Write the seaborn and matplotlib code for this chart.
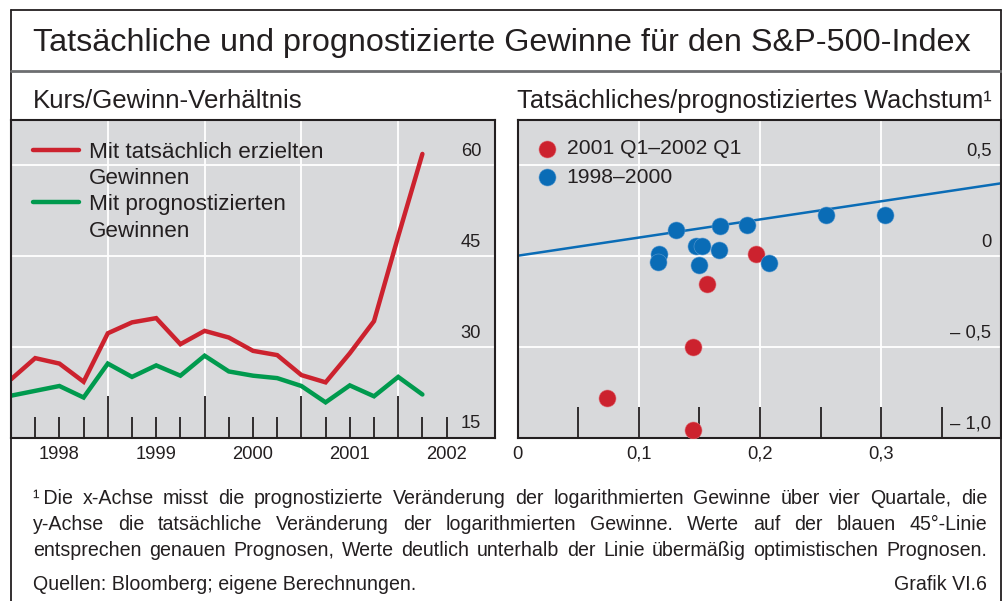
import numpy as np
import pandas as pd
import matplotlib
matplotlib.use("Agg")
import matplotlib.pyplot as plt
import seaborn as sns
from matplotlib.lines import Line2D
from matplotlib.transforms import ScaledTranslation
from matplotlib.ticker import FixedLocator, FuncFormatter, NullFormatter

# ---------------- data ----------------
quarters = ["1997Q4", "1998Q1", "1998Q2", "1998Q3", "1998Q4", "1999Q1", "1999Q2",
            "1999Q3", "1999Q4", "2000Q1", "2000Q2", "2000Q3", "2000Q4", "2001Q1",
            "2001Q2", "2001Q3", "2001Q4", "2002Q1"]
pe_actual = [24.6, 28.1, 27.2, 24.2, 32.2, 34.0, 34.7, 30.4, 32.6, 31.5, 29.3, 28.6,
             25.3, 24.1, 28.9, 34.2, 48.2, 61.8]
pe_forecast = [21.9, 22.7, 23.5, 21.6, 27.2, 25.0, 26.9, 25.2, 28.5, 25.9, 25.2, 24.8,
               23.5, 20.8, 23.6, 21.8, 25.0, 22.1]

growth_fc_recent = [0.197, 0.156, 0.145, 0.074, 0.1445]
growth_act_recent = [0.011, -0.154, -0.501, -0.783, -0.958]
growth_fc_early = [0.131, 0.117, 0.116, 0.147, 0.152, 0.1495, 0.167, 0.166, 0.189,
                   0.207, 0.254, 0.303]
growth_act_early = [0.139, 0.011, -0.037, 0.051, 0.055, -0.050, 0.165, 0.031, 0.171,
                    -0.040, 0.224, 0.224]

year_labels = ["1998", "1999", "2000", "2001", "2002"]
pe_ticks = [15, 30, 45, 60]
gr_yticks = [0.5, 0.0, -0.5, -1.0]
gr_ylabels = ["0,5", "0", "\u2013 0,5", "\u2013 1,0"]
gr_xticks = [0.0, 0.1, 0.2, 0.3]
gr_xlabels = ["0", "0,1", "0,2", "0,3"]

title = "Tatsächliche und prognostizierte Gewinne für den S&P-500-Index"
sub_left = "Kurs/Gewinn-Verhältnis"
sub_right = "Tatsächliches/prognostiziertes Wachstum\u00b9"
lab_actual = ["Mit tatsächlich erzielten", "Gewinnen"]
lab_forecast = ["Mit prognostizierten", "Gewinnen"]
lab_recent = "2001 Q1\u20132002 Q1"
lab_early = "1998\u20132000"
foot_lines = [
    "\u00b9 Die x-Achse misst die prognostizierte Veränderung der logarithmierten Gewinne über vier Quartale, die",
    "y-Achse die tatsächliche Veränderung der logarithmierten Gewinne. Werte auf der blauen 45°-Linie",
    "entsprechen genauen Prognosen, Werte deutlich unterhalb der Linie übermäßig optimistischen Prognosen.",
]
source = "Quellen: Bloomberg; eigene Berechnungen."
grafik = "Grafik VI.6"

# ---------------- style ----------------
RED = "#cc222e"
GREEN = "#009a4e"
BLUE = "#0a6cb6"
BG = "#d8d9db"
DARK = "#231f20"

sns.set_style("white")
plt.rcParams["font.family"] = ["Liberation Sans", "DejaVu Sans"]
plt.rcParams["text.color"] = DARK

W, H = 1002, 601
fig = plt.figure(figsize=(W / 100, H / 100), dpi=100)


def fx(px):
    return px / W


def fy(py):
    return 1 - py / H


ax1 = fig.add_axes([fx(11), fy(437.5), fx(495 - 11), (437.5 - 120) / H])
ax2 = fig.add_axes([fx(517.5), fy(437.5), fx(1001 - 517.5), (437.5 - 120) / H])

TICKFS = 13.2

# ---------------- left panel ----------------
xq = [int(q[:4]) + int(q[-1]) / 4 for q in quarters]
df_pe = pd.DataFrame({"t": xq, "actual": pe_actual, "forecast": pe_forecast})
sns.lineplot(data=df_pe, x="t", y="actual", ax=ax1, color=RED, lw=3.2,
             label=lab_actual[0], solid_joinstyle="miter")
sns.lineplot(data=df_pe, x="t", y="forecast", ax=ax1, color=GREEN, lw=3.2,
             label=lab_forecast[0], solid_joinstyle="miter")

ax1.set_xlim(1998, 2003)
ax1.set_ylim(15, 67.4)
ax1.set_facecolor(BG)
ax1.set_xlabel("")
ax1.set_ylabel("")

years = [int(y) for y in year_labels]
ax1.xaxis.set_major_locator(FixedLocator([y for y in years[1:]]))
ax1.xaxis.set_major_formatter(NullFormatter())
minor_q = [y + f for y in years for f in (0.25, 0.5, 0.75)]
minor_q = [m for m in minor_q if m <= years[-1] + 0.5]
ax1.xaxis.set_minor_locator(FixedLocator(minor_q))
ax1.xaxis.set_minor_formatter(FuncFormatter(
    lambda v, p: str(int(v)) if abs(v % 1 - 0.5) < 1e-6 else ""))
ax1.tick_params(axis="x", which="major", direction="in", length=30, width=1.3,
                color=DARK, bottom=True, top=False)
ax1.tick_params(axis="x", which="minor", direction="in", length=15, width=1.3,
                color=DARK, bottom=True, top=False, labelsize=TICKFS, pad=6,
                labelcolor=DARK)
ax1.grid(axis="x", which="major", color="white", lw=1.3)

ax1.yaxis.set_major_locator(FixedLocator(pe_ticks))
ax1.yaxis.set_major_formatter(FuncFormatter(lambda v, p: f"{int(v)}"))
ax1.tick_params(axis="y", which="major", length=0, left=False, right=False,
                labelleft=False, labelright=True, pad=-10, labelsize=TICKFS,
                labelcolor=DARK)
ax1.grid(axis="y", which="major", color="white", lw=1.3)
off = ScaledTranslation(0, 15.5 / 100, fig.dpi_scale_trans)
for lab in ax1.get_yticklabels():
    lab.set_horizontalalignment("right")
    lab.set_transform(lab.get_transform() + off)

for s in ax1.spines.values():
    s.set_color(DARK)
    s.set_linewidth(1.5)

h1, _ = ax1.get_legend_handles_labels()
blank = Line2D([], [], color="none")
leg1 = ax1.legend([h1[0], blank, h1[1], blank],
                  [lab_actual[0], lab_actual[1], lab_forecast[0], lab_forecast[1]],
                  loc="upper left", bbox_to_anchor=(fx(33), fy(141.5)),
                  bbox_transform=fig.transFigure, frameon=False, fontsize=16.2,
                  handlelength=2.05, handletextpad=0.45, borderpad=0,
                  borderaxespad=0, labelspacing=0.24)
for t in leg1.get_texts():
    t.set_color(DARK)

# ---------------- right panel ----------------
df_r = pd.DataFrame({"fc": growth_fc_recent, "act": growth_act_recent})
df_e = pd.DataFrame({"fc": growth_fc_early, "act": growth_act_early})
ax2.axline((0, 0), slope=1, color=BLUE, lw=1.8, zorder=2)
sns.scatterplot(data=df_r, x="fc", y="act", ax=ax2, color=RED, s=150,
                edgecolor="#e07078", linewidth=0.4, label=lab_recent, zorder=3)
sns.scatterplot(data=df_e, x="fc", y="act", ax=ax2, color=BLUE, s=150,
                edgecolor="#5a9ad0", linewidth=0.4, label=lab_early, zorder=3)

ax2.set_xlim(0, 0.3986)
ax2.set_ylim(-1.0, 0.747)
ax2.set_facecolor(BG)
ax2.set_xlabel("")
ax2.set_ylabel("")

ax2.set_xticks(gr_xticks, gr_xlabels)
ax2.xaxis.set_minor_locator(FixedLocator([t + 0.05 for t in gr_xticks]))
ax2.tick_params(axis="x", which="both", direction="in", length=22, width=1.3,
                color=DARK, bottom=True, top=False)
ax2.tick_params(axis="x", which="major", labelsize=TICKFS, pad=6, labelcolor=DARK)
ax2.grid(axis="x", which="major", color="white", lw=1.3)

ax2.set_yticks(gr_yticks, gr_ylabels)
ax2.tick_params(axis="y", which="major", length=0, left=False, right=False,
                labelleft=False, labelright=True, pad=-7, labelsize=TICKFS,
                labelcolor=DARK)
ax2.grid(axis="y", which="major", color="white", lw=1.3)
for lab in ax2.get_yticklabels():
    lab.set_horizontalalignment("right")
    lab.set_transform(lab.get_transform() + off)

for s in ax2.spines.values():
    s.set_color(DARK)
    s.set_linewidth(1.5)

leg2 = ax2.legend(loc="upper left", bbox_to_anchor=(fx(536), fy(139.5)),
                  bbox_transform=fig.transFigure, frameon=False, fontsize=15.2,
                  handlelength=1.0, handletextpad=0.45, borderpad=0,
                  borderaxespad=0, labelspacing=0.45)
for t in leg2.get_texts():
    t.set_color(DARK)

# ---------------- frame & texts ----------------
fig.add_artist(Line2D([fx(10.5), fx(10.5)], [fy(10), fy(601)], color=DARK, lw=1.3))
fig.add_artist(Line2D([fx(1001), fx(1001)], [fy(10), fy(601)], color=DARK, lw=1.3))
fig.add_artist(Line2D([fx(10.5), fx(1001)], [fy(10), fy(10)], color=DARK, lw=1.3))
fig.add_artist(Line2D([fx(10.5), fx(1001)], [fy(71), fy(71)], color="#6d6e70", lw=2.0))

fig.text(fx(33), fy(51.5), title, fontsize=23.3, va="baseline", color=DARK)
fig.text(fx(33), fy(108.3), sub_left, fontsize=18.6, va="baseline", color=DARK)
fig.text(fx(517), fy(108.3), sub_right, fontsize=18.3, va="baseline", color=DARK)

FS = 14.1
fig.canvas.draw()
renderer = fig.canvas.get_renderer()
x0, x1 = 33, 987
for i, line in enumerate(foot_lines):
    base = 504 + 26 * i
    words = line.split(" ")
    if words[0] == "\u00b9":
        words = [words[0] + "\u2009" + words[1]] + words[2:]
    texts = [fig.text(0, fy(base), w, fontsize=FS, va="baseline", color=DARK)
             for w in words]
    widths = [t.get_window_extent(renderer).width for t in texts]
    gap = (x1 - x0 - sum(widths)) / (len(words) - 1)
    pos = x0
    for t, w in zip(texts, widths):
        t.set_x(fx(pos))
        pos += w + gap

fig.text(fx(33), fy(590), source, fontsize=FS, va="baseline", color=DARK)
fig.text(fx(987), fy(590), grafik, fontsize=FS, va="baseline", ha="right",
         color=DARK)

fig.savefig("out.png", dpi=100)
